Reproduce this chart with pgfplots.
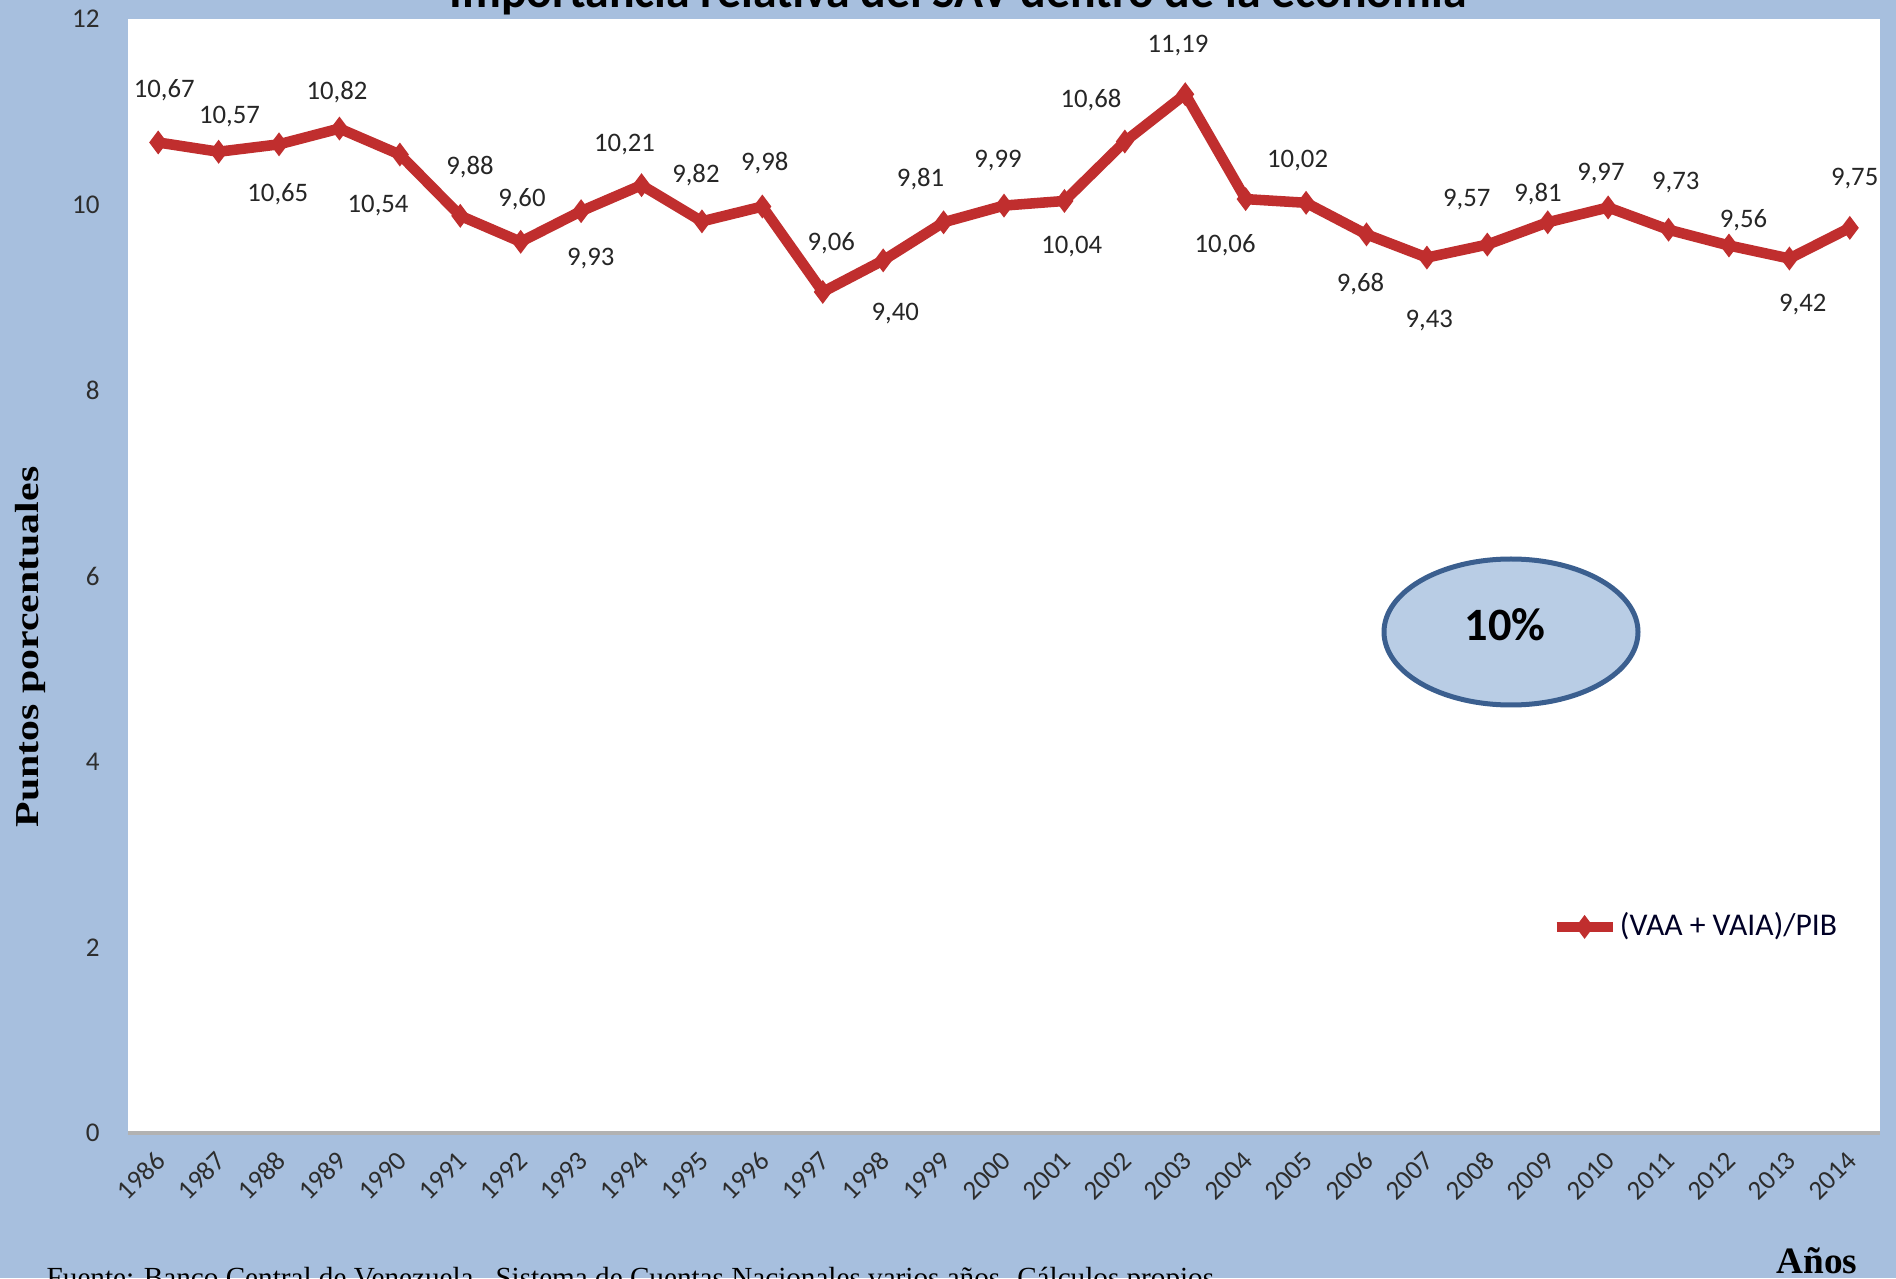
\documentclass[border=0pt]{standalone}
\usepackage{pgfplots}
\pgfplotsset{compat=1.18}
\usepackage{pgfplotstable}
\usepackage{fontspec}
\setmainfont{Carlito}
\newfontfamily\timesf{Liberation Serif}

\definecolor{bgblue}{RGB}{167,191,222}
\definecolor{serie}{RGB}{192,46,46}
\definecolor{elfill}{RGB}{185,205,229}
\definecolor{eldraw}{RGB}{59,95,143}
\definecolor{tickgray}{RGB}{45,45,45}

% year, value, label offset (px, right / up)
\pgfplotstableread{
year val dx dy
1986 10.67 5 43
1987 10.57 9 29
1988 10.65 -1 -41
1989 10.82 -2 30
1990 10.54 -18 -42
1991 9.88 8 40
1992 9.60 1 35
1993 9.93 8 -39
1994 10.21 -14 34
1995 9.82 -5 38
1996 9.98 2 36
1997 9.06 7 40
1998 9.40 10 -44
1999 9.81 -19 36
2000 9.99 -5 37
2001 10.04 6 -38
2002 10.68 -28 34
2003 11.19 -6 40
2004 10.06 -17 -38
2005 10.02 -7 35
2006 9.68 -5 -41
2007 9.43 2 -52
2008 9.57 -17 37
2009 9.81 -8 23
2010 9.97 -6 28
2011 9.73 6 39
2012 9.56 12 21
2013 9.42 11 -38
2014 9.75 4 41
}\sav

\begin{document}
\begin{tikzpicture}[x=1cm,y=1cm]
\useasboundingbox (0,0) rectangle (18.96,12.78);
\clip (0,0) rectangle (18.96,12.78);
\fill[bgblue] (0,0) rectangle (18.96,12.78);

\begin{axis}[
    at={(1.28cm,1.45cm)}, anchor=south west,
    scale only axis, width=17.52cm, height=11.14cm,
    xmin=1985.5, xmax=2014.5, ymin=0, ymax=12,
    xtick={1986,...,2014}, ytick={0,2,...,12},
    major tick length=0pt,
    axis line style={draw=none},
    axis background/.style={fill=white},
    clip=false,
    /pgf/number format/.cd, 1000 sep={}, assume math mode=true,
    /pgfplots/.cd,
    ticklabel style={font=\fontsize{7.7}{9}\selectfont, text=tickgray},
    xticklabel style={xshift=0.26mm, yshift=-2.28mm, rotate=45, anchor=east, inner sep=0pt},
    yticklabel style={xshift=-1.6mm},
    legend style={draw=none, fill=none, at={(0.812,0.185)}, anchor=west,
        font=\fontsize{9}{10}\selectfont, text=black!85!blue, inner sep=0pt,
        nodes={inner xsep=0.6pt}},
    legend image code/.code={\draw[mark repeat=2,mark phase=2,#1] plot coordinates {(0cm,0cm)(0.28cm,0cm)(0.56cm,0cm)};},
]
\addplot[serie, line width=3pt, mark=diamond*, mark size=3pt,
    mark options={solid, fill=serie, line width=0.5pt},
    visualization depends on={\thisrow{dx}\as\dx},
    visualization depends on={\thisrow{dy}\as\dy},
    nodes near coords={\pgfmathprintnumber[fixed,fixed zerofill,precision=2,use comma,assume math mode=true]{\pgfplotspointmeta}},
    every node near coord/.append style={anchor=center, inner sep=0pt,
        text=black!85, font=\fontsize{7.6}{9}\selectfont,
        xshift=\dx*0.1209mm, yshift=\dy*0.1209mm},
    point meta=explicit,
] table[x=year, y=val, meta=val] {\sav};
\addlegendentry{(VAA + VAIA)/PIB}
\draw[gray!60, line width=0.9pt] (rel axis cs:0,0) -- (rel axis cs:1,0);
\end{axis}

% title (cut at the top edge in the original)
\node[anchor=base, font=\fontsize{13.6}{15}\selectfont\bfseries] at (9.58,12.70)
    {Importancia relativa del SAV dentro de la economía};

% oval note
\draw[fill=elfill, draw=eldraw, line width=0.5mm] (15.11,6.46) ellipse (1.27 and 0.73);
\node[font=\fontsize{13.2}{15}\selectfont\bfseries] at (15.05,6.53) {10\%};

% axis titles
\node[rotate=90, font=\timesf\bfseries\fontsize{11.9}{13}\selectfont] at (0.30,6.31)
    {\scalebox{1}[0.8]{Puntos porcentuales}};
\node[anchor=base, font=\timesf\bfseries\fontsize{10.6}{12}\selectfont] at (18.17,0.05) {Años};

% source (cut at the bottom edge)
\node[anchor=base west, inner sep=0pt, font=\timesf\fontsize{8.3}{10}\selectfont] at (0.46,-0.09)
    {Fuente: Banco Central de Venezuela.\ \ Sistema de Cuentas Nacionales varios años. Cálculos propios.};
\end{tikzpicture}
\end{document}
